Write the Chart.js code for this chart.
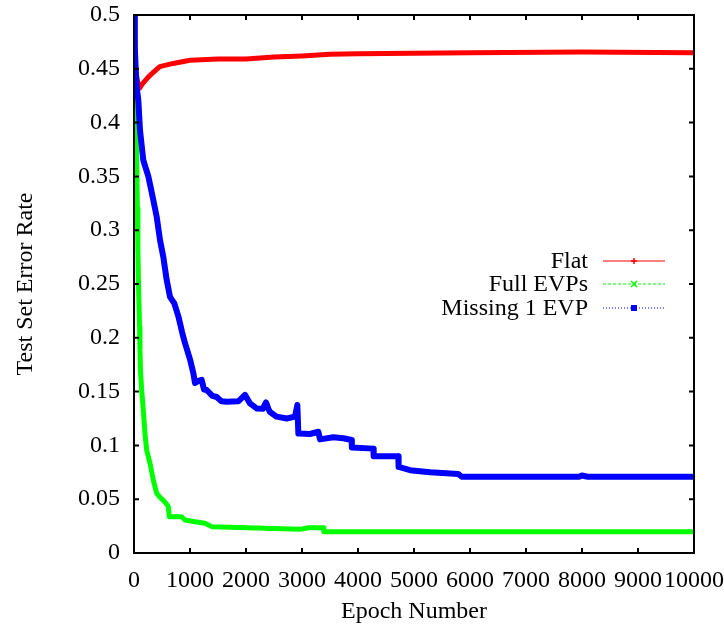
<!DOCTYPE html>
<html>
<head>
<meta charset="utf-8">
<script src="https://cdn.jsdelivr.net/npm/chart.js@4.4.1/dist/chart.umd.min.js"></script>
<style>
  body { margin: 0; background: #fff; }
  #wrap { width: 724px; height: 627px; }
</style>
</head>
<body>
<div id="wrap"><canvas id="errChart" width="724" height="627"></canvas></div>
<script>
// values
let seriesNames = ["Flat", "Full EVPs", "Missing 1 EVP"];

let flatEpochs = [0, 15, 35, 70, 100, 150, 250, 350, 460, 700, 1000, 1500, 2000, 2500, 3000, 3500, 4000, 5000, 6000, 8000, 10000];
let flatErr = [0.475, 0.46, 0.445, 0.437, 0.432, 0.436, 0.442, 0.447, 0.452, 0.455, 0.458, 0.459, 0.459, 0.461, 0.462, 0.4635, 0.464, 0.4645, 0.465, 0.4655, 0.465];

let fullEpochs = [0, 20, 35, 50, 60, 70, 85, 100, 107, 115, 137, 166, 196, 226, 286, 345, 405, 460, 524, 590, 613, 630, 851, 911, 1089, 1268, 1387, 2339, 2964, 3107, 3381, 3390, 10000];
let fullErr = [0.45, 0.43, 0.40, 0.36, 0.32, 0.28, 0.24, 0.21, 0.189, 0.17, 0.1515, 0.133, 0.111, 0.0957, 0.0833, 0.0678, 0.0555, 0.052, 0.049, 0.045, 0.043, 0.0337, 0.0337, 0.0307, 0.029, 0.0276, 0.0245, 0.023, 0.022, 0.0235, 0.0235, 0.0198, 0.0198];

let missEpochs = [0, 15, 30, 50, 77, 107, 166, 256, 345, 405, 464, 524, 583, 643, 720, 792, 860, 911, 1000, 1060, 1089, 1150, 1208, 1250, 1298, 1400, 1476, 1560, 1655, 1863, 1982, 2071, 2190, 2300, 2357, 2400, 2429, 2548, 2726, 2875, 2917, 2935, 3143, 3292, 3321, 3560, 3738, 3887, 3890, 4274, 4280, 4720, 4725, 4929, 5286, 5792, 5851, 7950, 8000, 8100, 10000];
let missErr = [0.5, 0.47, 0.45, 0.432, 0.421, 0.393, 0.365, 0.35, 0.328, 0.3125, 0.291, 0.275, 0.254, 0.238, 0.232, 0.22, 0.205, 0.195, 0.18, 0.167, 0.158, 0.16, 0.161, 0.152, 0.1515, 0.146, 0.145, 0.141, 0.1406, 0.141, 0.147, 0.139, 0.1344, 0.134, 0.14, 0.134, 0.131, 0.1267, 0.125, 0.1267, 0.1375, 0.111, 0.1106, 0.1127, 0.1056, 0.1075, 0.1066, 0.105, 0.098, 0.097, 0.09, 0.09, 0.08, 0.077, 0.075, 0.0734, 0.0709, 0.0709, 0.072, 0.0709, 0.0709];

let xTicks = [0, 1000, 2000, 3000, 4000, 5000, 6000, 7000, 8000, 9000, 10000];
let yTicks = [0, 0.05, 0.1, 0.15, 0.2, 0.25, 0.3, 0.35, 0.4, 0.45, 0.5];
let yTickLabels = ["0", "0.05", "0.1", "0.15", "0.2", "0.25", "0.3", "0.35", "0.4", "0.45", "0.5"];

let colors = ["#ff0000", "#00ff00", "#0000ff"];
let serif = "'Liberation Serif', 'DejaVu Serif', serif";

function toPoints(xs, ys) {
    return xs.map((x, i) => ({ x: x, y: ys[i] }));
}

// frame plus inward ticks on all four sides, gnuplot style
let framePlugin = {
    id: 'frame',
    afterDatasetsDraw(chart) {
        let ctx = chart.ctx;
        let a = chart.chartArea;
        let xs = chart.scales.x;
        let ys = chart.scales.y;
        let tl = 5;
        ctx.save();
        ctx.strokeStyle = '#000';
        ctx.lineWidth = 2;
        ctx.strokeRect(a.left, a.top, a.right - a.left, a.bottom - a.top);
        ctx.beginPath();
        xTicks.forEach(v => {
            let px = xs.getPixelForValue(v);
            ctx.moveTo(px, a.bottom); ctx.lineTo(px, a.bottom - tl);
            ctx.moveTo(px, a.top); ctx.lineTo(px, a.top + tl);
        });
        yTicks.forEach(v => {
            let py = ys.getPixelForValue(v);
            ctx.moveTo(a.left, py); ctx.lineTo(a.left + tl, py);
            ctx.moveTo(a.right, py); ctx.lineTo(a.right - tl, py);
        });
        ctx.stroke();
        ctx.restore();
    }
};

// key inside the plot: right aligned names, sample line on the right
let keyPlugin = {
    id: 'key',
    afterDraw(chart) {
        let ctx = chart.ctx;
        let rows = [261, 284, 308];
        let textRight = 588, lineL = 603, lineR = 665, mid = 634;
        ctx.save();
        ctx.font = "24px " + serif;
        ctx.textAlign = 'right';
        ctx.textBaseline = 'middle';
        chart.data.datasets.forEach((ds, i) => {
            let y = rows[i];
            ctx.fillStyle = '#000';
            ctx.fillText(ds.label, textRight, y + 1);
            ctx.strokeStyle = colors[i];
            ctx.lineWidth = 1;
            ctx.setLineDash(i == 0 ? [] : (i == 1 ? [3, 2] : [1, 2]));
            ctx.beginPath();
            ctx.moveTo(lineL, y); ctx.lineTo(lineR, y);
            ctx.stroke();
            ctx.setLineDash([]);
            ctx.lineWidth = 1.5;
            ctx.beginPath();
            if (i == 0) {
                ctx.moveTo(mid - 3, y); ctx.lineTo(mid + 3, y);
                ctx.moveTo(mid, y - 3); ctx.lineTo(mid, y + 3);
                ctx.stroke();
            } else if (i == 1) {
                ctx.moveTo(mid - 3, y - 3); ctx.lineTo(mid + 3, y + 3);
                ctx.moveTo(mid - 3, y + 3); ctx.lineTo(mid + 3, y - 3);
                ctx.stroke();
            } else {
                ctx.fillStyle = colors[i];
                ctx.fillRect(mid - 3, y - 3, 6, 6);
            }
        });
        ctx.restore();
    }
};

let errCanvas = document.getElementById("errChart");

let errChart = new Chart(errCanvas, {
    type: 'line',
    data: {
        datasets: [
            { label: seriesNames[0], data: toPoints(flatEpochs, flatErr), borderColor: colors[0], borderWidth: 5, order: 3 },
            { label: seriesNames[1], data: toPoints(fullEpochs, fullErr), borderColor: colors[1], borderWidth: 5, order: 2 },
            { label: seriesNames[2], data: toPoints(missEpochs, missErr), borderColor: colors[2], borderWidth: 6, order: 1 }
        ]
    },
    options: {
        responsive: false,
        animation: false,
        devicePixelRatio: 1,
        layout: { padding: { left: 0, right: 30, top: 15, bottom: 0 } },
        elements: {
            point: { radius: 0 },
            line: { tension: 0, fill: false, borderJoinStyle: 'round', borderCapStyle: 'butt' }
        },
        plugins: {
            legend: { display: false },
            tooltip: { enabled: false }
        },
        scales: {
            x: {
                type: 'linear',
                min: 0,
                max: 10000,
                grid: { display: false, drawTicks: false },
                border: { display: false },
                afterBuildTicks: scale => { scale.ticks = xTicks.map(v => ({ value: v })); },
                afterFit: scale => { scale.height = 74; scale.paddingLeft = 0; scale.paddingRight = 0; },
                ticks: {
                    padding: 13,
                    maxRotation: 0,
                    autoSkip: false,
                    color: '#000',
                    font: { family: serif, size: 24 },
                    callback: v => String(v)
                },
                title: {
                    display: true,
                    text: 'Epoch Number',
                    color: '#000',
                    font: { family: serif, size: 24, lineHeight: 1.2 },
                    padding: { top: 0, bottom: 1 }
                }
            },
            y: {
                type: 'linear',
                min: 0,
                max: 0.5,
                grid: { display: false, drawTicks: false },
                border: { display: false },
                afterBuildTicks: scale => { scale.ticks = yTicks.map(v => ({ value: v })); },
                afterFit: scale => { scale.width = 134; scale.paddingTop = 0; scale.paddingBottom = 0; },
                ticks: {
                    padding: 14,
                    autoSkip: false,
                    color: '#000',
                    font: { family: serif, size: 24 },
                    callback: (v, i) => yTickLabels[i]
                },
                title: {
                    display: true,
                    text: 'Test Set Error Rate',
                    color: '#000',
                    font: { family: serif, size: 24, lineHeight: 1.2 },
                    padding: { top: 11, bottom: 0 }
                }
            }
        }
    },
    plugins: [framePlugin, keyPlugin]
});
</script>
</body>
</html>
